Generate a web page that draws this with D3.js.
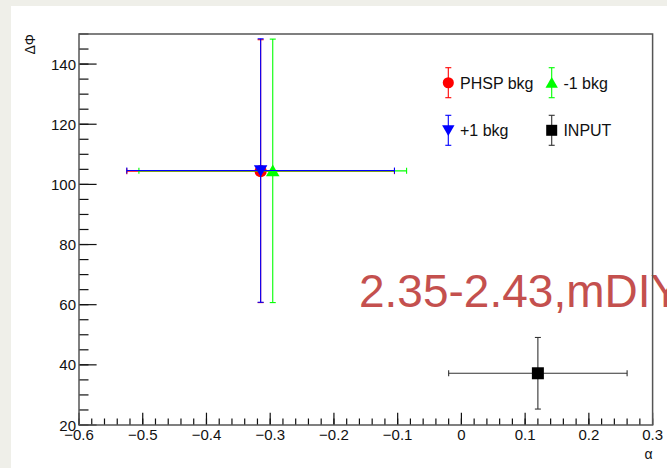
<!DOCTYPE html>
<html>
<head>
<meta charset="utf-8">
<script src="https://cdn.jsdelivr.net/npm/d3@7"></script>
<style>
	body { margin: 0; background: #efefe9; }
	svg { display: block; font-family: 'Liberation Sans', Arial, sans-serif; }
</style>
</head>
<body>
<svg id="chart" width="667" height="468"></svg>
<script>
// values
let names = ['PHSP bkg', '-1 bkg', '+1 bkg', 'INPUT'];
let colors = ['#ff0000', '#00ff00', '#0000ff', '#000000'];
let shapes = ['circle', 'up', 'down', 'square'];
let alpha = [-0.315, -0.296, -0.315, 0.12];
let alphaErr = [0.21, 0.21, 0.21, 0.14];
let dphi = [104.4, 104.5, 104.6, 37.2];
let dphiErr = [43.7, 43.8, 43.8, 11.9];
let xTicks = [-0.6, -0.5, -0.4, -0.3, -0.2, -0.1, 0, 0.1, 0.2, 0.3];
let yTicks = [20, 40, 60, 80, 100, 120, 140];
let note = '2.35-2.43,mDIY';

let svg = d3.select('#chart');
let padL = 79, padR = 652.6, padT = 34, padB = 425;

// white canvas
svg.append('rect').attr('x', 11).attr('y', 6).attr('width', 656).attr('height', 462).style('fill', 'white');

let x = d3.scaleLinear().domain([-0.6, 0.3]).range([padL, padR]);
let y = d3.scaleLinear().domain([20, 150]).range([padB, padT]);

function marker(g, shape, size, color) {
	let sym;
	if (shape == 'circle') sym = d3.symbol(d3.symbolCircle, size * size * 0.8);
	else if (shape == 'square') sym = d3.symbol(d3.symbolSquare, size * size);
	else sym = d3.symbol(d3.symbolTriangle, size * size * 0.55);
	let p = g.append('path').attr('d', sym()).style('fill', color);
	if (shape == 'up') p.attr('transform', 'translate(0,1.5)');
	if (shape == 'down') p.attr('transform', 'translate(0,-1.5) rotate(180)');
	return p;
}

// error bars + markers (drawn in order: red, green, blue, black)
let pts = d3.range(names.length);
let plot = svg.append('g');
pts.forEach(i => {
	let g = plot.append('g').style('stroke', colors[i] == '#000000' ? '#333' : colors[i]).style('stroke-width', 1.1);
	let cx = x(alpha[i]), cy = y(dphi[i]);
	let x0 = x(alpha[i] - alphaErr[i]), x1 = x(alpha[i] + alphaErr[i]);
	let y0 = y(dphi[i] - dphiErr[i]), y1 = y(dphi[i] + dphiErr[i]);
	g.append('line').attr('x1', x0).attr('x2', x1).attr('y1', cy).attr('y2', cy);
	g.append('line').attr('x1', cx).attr('x2', cx).attr('y1', y0).attr('y2', y1);
	g.append('line').attr('x1', x0).attr('x2', x0).attr('y1', cy - 3).attr('y2', cy + 3);
	g.append('line').attr('x1', x1).attr('x2', x1).attr('y1', cy - 3).attr('y2', cy + 3);
	g.append('line').attr('x1', cx - 3).attr('x2', cx + 3).attr('y1', y0).attr('y2', y0);
	g.append('line').attr('x1', cx - 3).attr('x2', cx + 3).attr('y1', y1).attr('y2', y1);
	let m = plot.append('g').attr('transform', 'translate(' + cx + ',' + cy + ')');
	marker(m, shapes[i], 12, colors[i]);
});

// big label
svg.append('text').attr('x', 359).attr('y', 307)
	.style('font-size', '46px').style('fill', '#c4504e')
	.text(note);

// legend (2 x 2)
let legX = [448.3, 551.7], legY = [82.7, 130.3];
pts.forEach(i => {
	let col = i % 2, row = Math.floor(i / 2);
	let lx = legX[col], ly = legY[row];
	let g = svg.append('g').attr('transform', 'translate(' + lx + ',' + ly + ')');
	let c = colors[i] == '#000000' ? '#333' : colors[i];
	g.append('line').attr('x1', 0).attr('x2', 0).attr('y1', -15).attr('y2', 15).style('stroke', c).style('stroke-width', 1.1);
	g.append('line').attr('x1', -3).attr('x2', 3).attr('y1', -15).attr('y2', -15).style('stroke', c).style('stroke-width', 1.1);
	g.append('line').attr('x1', -3).attr('x2', 3).attr('y1', 15).attr('y2', 15).style('stroke', c).style('stroke-width', 1.1);
	marker(g, shapes[i], 11, colors[i]);
	g.append('text').attr('x', 11.7).attr('y', 6).style('font-size', '16px').style('fill', '#111').text(names[i]);
});

// axes
let xMinor = d3.range(-0.6, 0.3001, 0.02).map(d => +d.toFixed(2));
let yMinor = d3.range(20, 150.01, 5);
let ax = svg.append('g').style('stroke', '#111').style('stroke-width', 1.2);
ax.selectAll('line.xmin').data(xMinor).join('line')
	.attr('x1', d => x(d)).attr('x2', d => x(d)).attr('y1', padB).attr('y2', padB - 6.5);
ax.selectAll('line.xmaj').data(xTicks).join('line')
	.attr('x1', d => x(d)).attr('x2', d => x(d)).attr('y1', padB).attr('y2', padB - 12.3);
ax.selectAll('line.ymin').data(yMinor).join('line')
	.attr('x1', padL).attr('x2', padL + 9.5).attr('y1', d => y(d)).attr('y2', d => y(d));
ax.selectAll('line.ymaj').data(yTicks).join('line')
	.attr('x1', padL).attr('x2', padL + 17.6).attr('y1', d => y(d)).attr('y2', d => y(d));

// frame
svg.append('rect').attr('x', padL).attr('y', padT).attr('width', padR - padL).attr('height', padB - padT)
	.style('fill', 'none').style('stroke', '#555').style('stroke-width', 1.5);

let fmtX = d => d == 0 ? '0' : d3.format('.1f')(d).replace('-', '\u2212');
svg.append('g').selectAll('text').data(xTicks).join('text')
	.attr('x', d => x(d)).attr('y', padB + 15)
	.attr('text-anchor', 'middle')
	.style('font-size', '15px').style('fill', '#111')
	.text(fmtX);
svg.append('g').selectAll('text').data(yTicks).join('text')
	.attr('x', padL - 3).attr('y', d => y(d) + 5.5)
	.attr('text-anchor', 'end')
	.style('font-size', '15px').style('fill', '#111')
	.text(d => d);

// axis titles
svg.append('text').attr('transform', 'translate(35,' + padT + ') rotate(-90)')
	.attr('text-anchor', 'end').style('font-size', '14px').style('fill', '#111').text('\u0394\u03a6');
svg.append('text').attr('x', padR).attr('y', 459)
	.attr('text-anchor', 'end').style('font-size', '14px').style('fill', '#111').text('\u03b1');
</script>
</body>
</html>
